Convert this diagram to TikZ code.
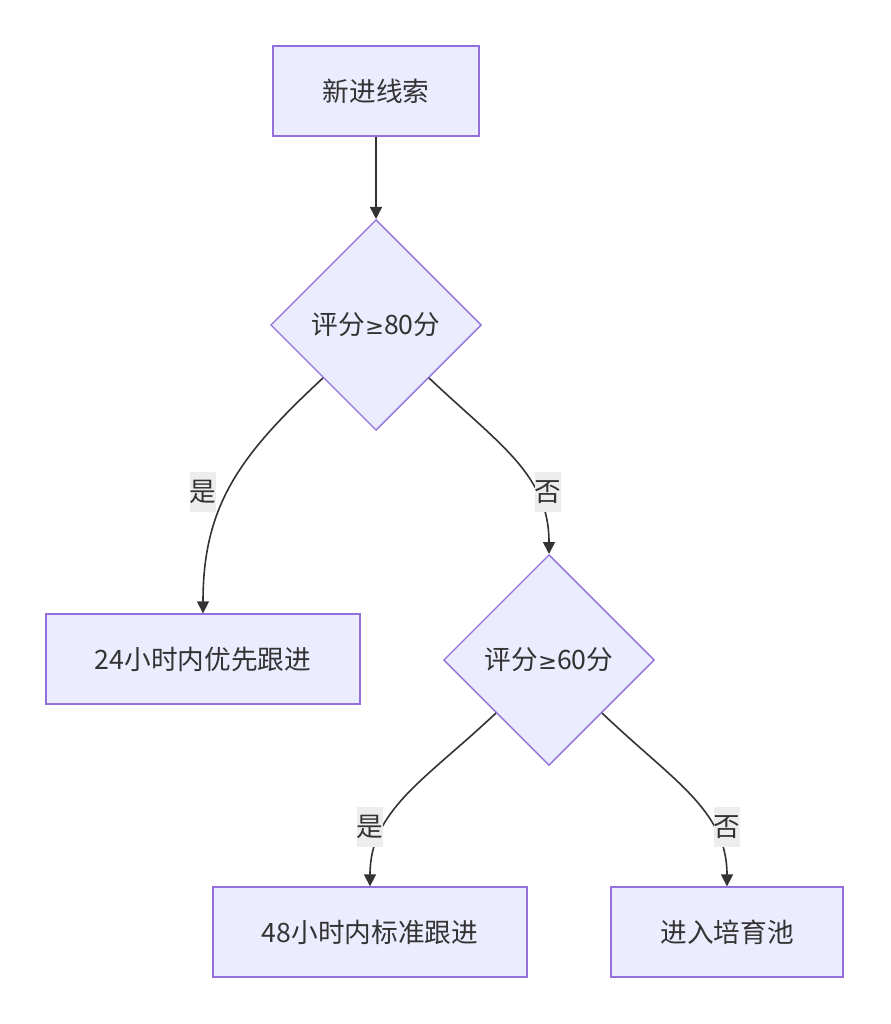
\documentclass[tikz,border=0pt]{standalone}
\usepackage{fontspec}
\setmainfont{Noto Sans CJK SC}
\newfontfamily\symbolfont{DejaVu Sans}
\usetikzlibrary{shapes.geometric,arrows.meta}
\definecolor{nodefill}{HTML}{ECECFF}
\definecolor{nodeline}{HTML}{9370DB}
\definecolor{ink}{HTML}{333333}
\definecolor{labelbg}{HTML}{EDEDED}

\begin{document}
\begin{tikzpicture}[x=0.75pt, y=-0.75pt,
        box/.style={rectangle, draw=nodeline, fill=nodefill, line width=1pt, minimum height=67.5pt, text=ink, font=\fontsize{20}{23}\selectfont},
        decision/.style={diamond, aspect=1, draw=nodeline, fill=nodefill, line width=1pt, minimum width=158pt, minimum height=158pt, inner sep=0pt, text=ink, font=\fontsize{20}{23}\selectfont},
        arrow/.style={-{Triangle[width=9pt,length=9pt]}, line width=1.2pt, ink},
        edgelabel/.style={fill=labelbg, text=ink, inner sep=0pt, minimum width=20pt, minimum height=30pt, font=\fontsize{20}{23}\selectfont}
      ]
        \useasboundingbox (0,0) rectangle (890,1024);

        \node[box, minimum width=154.5pt] at (376, 91)  (lead)   {新进线索};
        \node[decision]                  at (376, 325) (score80){评分{\symbolfont\fontsize{17}{23}\selectfont ≥}80分};
        \node[box, minimum width=235.5pt] at (203, 659) (fast)   {24小时内优先跟进};
        \node[decision]                  at (549, 660) (score60){评分{\symbolfont\fontsize{17}{23}\selectfont ≥}60分};
        \node[box, minimum width=235.5pt] at (370, 932) (normal) {48小时内标准跟进};
        \node[box, minimum width=174pt]  at (727, 932) (nurture){进入培育池};

        \draw[arrow] (lead) -- (score80);
        \draw[arrow] (score80.south west) .. controls (240, 455) and (203, 505) .. (fast.north);
        \draw[arrow] (score80.south east) .. controls (500, 445) and (549, 475) .. (score60.north);
        \draw[arrow] (score60.south west) .. controls (425, 780) and (370, 810) .. (normal.north);
        \draw[arrow] (score60.south east) .. controls (672, 780) and (727, 810) .. (nurture.north);

        \node[edgelabel] at (203, 492) (yes80) {是};
        \node[edgelabel] at (548, 492) (no80)  {否};
        \node[edgelabel] at (370, 827) (yes60) {是};
        \node[edgelabel] at (727, 827) (no60)  {否};
      \end{tikzpicture}
\end{document}
